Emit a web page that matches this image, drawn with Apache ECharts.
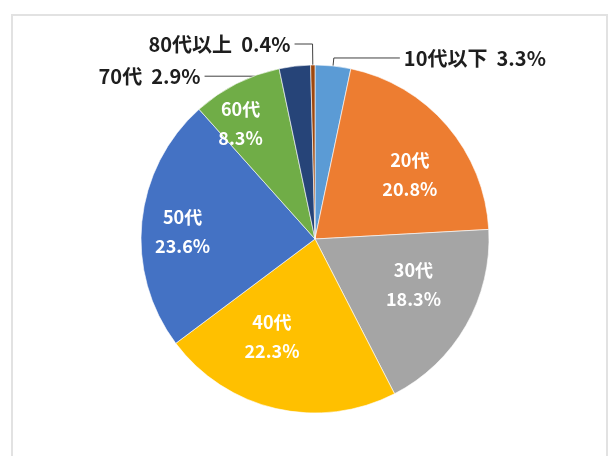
<!DOCTYPE html>
<html>
<head>
<meta charset="utf-8">
<script src="https://cdn.jsdelivr.net/npm/echarts@6/dist/echarts.min.js"></script>
<style>
  html, body { margin: 0; padding: 0; background: #fff; }
  #frame { position: absolute; left: 11px; top: 14px; width: 597px; height: 470px; border: 2px solid #e2e2e2; box-sizing: border-box; }
  #chart { position: absolute; left: 0; top: 0; width: 611px; height: 456px; }
</style>
</head>
<body>
<div id="frame"></div>
<div id="chart"></div>
<script>
// 年代別の割合 (%)
const categories = ['10代以下', '20代', '30代', '40代', '50代', '60代', '70代', '80代以上'];
const shares = [3.3, 20.8, 18.3, 22.3, 23.6, 8.3, 2.9, 0.4];
const colors = ['#5b9bd5', '#ed7d31', '#a5a5a5', '#ffc000', '#4472c4', '#70ad47', '#264478', '#9e480e'];

// 外側にラベルを出す項目と引き出し線の長さ
const outsideLines = {
  '10代以下': [8, 66],
  '70代': [2, 90],
  '80代以上': [21, 18],
};
// 内側ラベルの微調整 (Excel の自動配置に寄せる)
const insideOffsets = {
  '20代': [0, 17],
  '30代': [-10, -17],
  '40代': [-15, -24],
  '50代': [-8, 5],
  '60代': [-18, -4],
};

const font = '"Noto Sans CJK JP", "Noto Sans", sans-serif';
const chart = echarts.init(document.getElementById('chart'));

const pieData = categories.map((name, i) => {
  const line = outsideLines[name];
  return {
    name,
    value: shares[i],
    itemStyle: { color: colors[i] },
    label: { show: !!line },
    labelLine: line ? { show: true, length: line[0], length2: line[1] } : { show: false },
  };
});

// 内側ラベル用（透明）
const labelData = categories.map((name, i) => ({
  name,
  value: shares[i],
  label: { show: !outsideLines[name], offset: insideOffsets[name] || [0, 0] },
}));

// 70代のラベルは Excel と同じく引き出し線ごと少し下げる
const shiftDown = 12;
function moveLabel(p) {
  if (p.dataIndex !== 6 || !p.labelLinePoints) return undefined;
  return {
    dy: shiftDown,
    labelLinePoints: p.labelLinePoints.map((pt) => [pt[0], pt[1] + shiftDown]),
  };
}

chart.setOption({
  animation: false,
  series: [
    {
      type: 'pie',
      center: [315, 239],
      radius: [0, 174],
      startAngle: 90,
      clockwise: true,
      avoidLabelOverlap: false,
      silent: true,
      itemStyle: { borderColor: '#fff', borderWidth: 0.6 },
      label: {
        position: 'outside',
        color: '#1e1e1e',
        fontFamily: font,
        fontWeight: 'bold',
        fontSize: 20,
        lineHeight: 20,
        distanceToLabelLine: 4,
        formatter: (p) => `${p.name}  ${p.value.toFixed(1)}%`,
      },
      labelLine: { lineStyle: { color: '#404040', width: 1 } },
      labelLayout: moveLabel,
      data: pieData,
    },
    {
      type: 'pie',
      center: [315, 239],
      radius: [70, 174],
      startAngle: 90,
      clockwise: true,
      silent: true,
      avoidLabelOverlap: false,
      itemStyle: { color: 'transparent', borderWidth: 0 },
      label: {
        position: 'inside',
        color: '#fff',
        fontFamily: font,
        fontWeight: 'bold',
        fontSize: 18,
        lineHeight: 29,
        formatter: (p) => `${p.name}\n${p.value.toFixed(1)}%`,
      },
      labelLine: { show: false },
      data: labelData,
    },
  ],
});
</script>
</body>
</html>
